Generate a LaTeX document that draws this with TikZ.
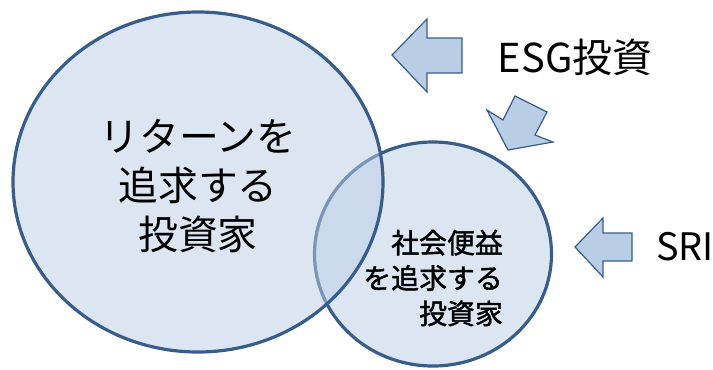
\documentclass[tikz,border=0pt]{standalone}
\usepackage{fontspec}
\setmainfont{Noto Sans CJK JP}
\usetikzlibrary{shapes.geometric}
\definecolor{fillb}{RGB}{185,205,229}
\definecolor{lineb}{RGB}{56,93,138}
\begin{document}
\begin{tikzpicture}[x=1bp,y=-1bp,
  venn/.style={ellipse, draw=lineb, line width=3.2bp, fill=fillb, fill opacity=0.5, draw opacity=1, inner sep=0pt},
  blockarrow/.style={draw=lineb, line width=1.2bp, fill=fillb, line join=miter},
  lbl/.style={inner sep=0pt, text=black}]
\useasboundingbox (0,0) rectangle (713,369);
\node[venn, minimum width=237bp, minimum height=224bp] (small) at (433,254) {};
\node[venn, minimum width=370bp, minimum height=340bp] (big) at (198,182) {};
\node[lbl, align=center, font=\fontsize{40}{49}\selectfont] (bigtxt) at (198,186) {リターンを\\追求する\\投資家};
\node[lbl, align=right, anchor=east, font=\addfontfeature{FakeBold=1.5}\fontsize{28}{35.5}\selectfont] (smalltxt) at (503,278) {社会便益\\を追求する\\投資家};
\node[lbl, font=\fontsize{40}{46}\selectfont] (esg) at (575,57) {ESG投資};
\node[lbl, anchor=west, font=\fontsize{38}{46}\selectfont] (sri) at (656,247) {SRI};
\draw[blockarrow] (392,55) -- (427,19) -- (427,38) -- (462,38) -- (462,73) -- (427,73) -- (427,92) -- cycle;
\draw[blockarrow] (508,150) -- (487,110) -- (503,120) -- (515,96) -- (547,112) -- (535,135) -- (553,142) -- cycle;
\draw[blockarrow] (575,247) -- (603,218) -- (603,233) -- (632,233) -- (632,261) -- (603,261) -- (603,277) -- cycle;
\end{tikzpicture}
\end{document}
